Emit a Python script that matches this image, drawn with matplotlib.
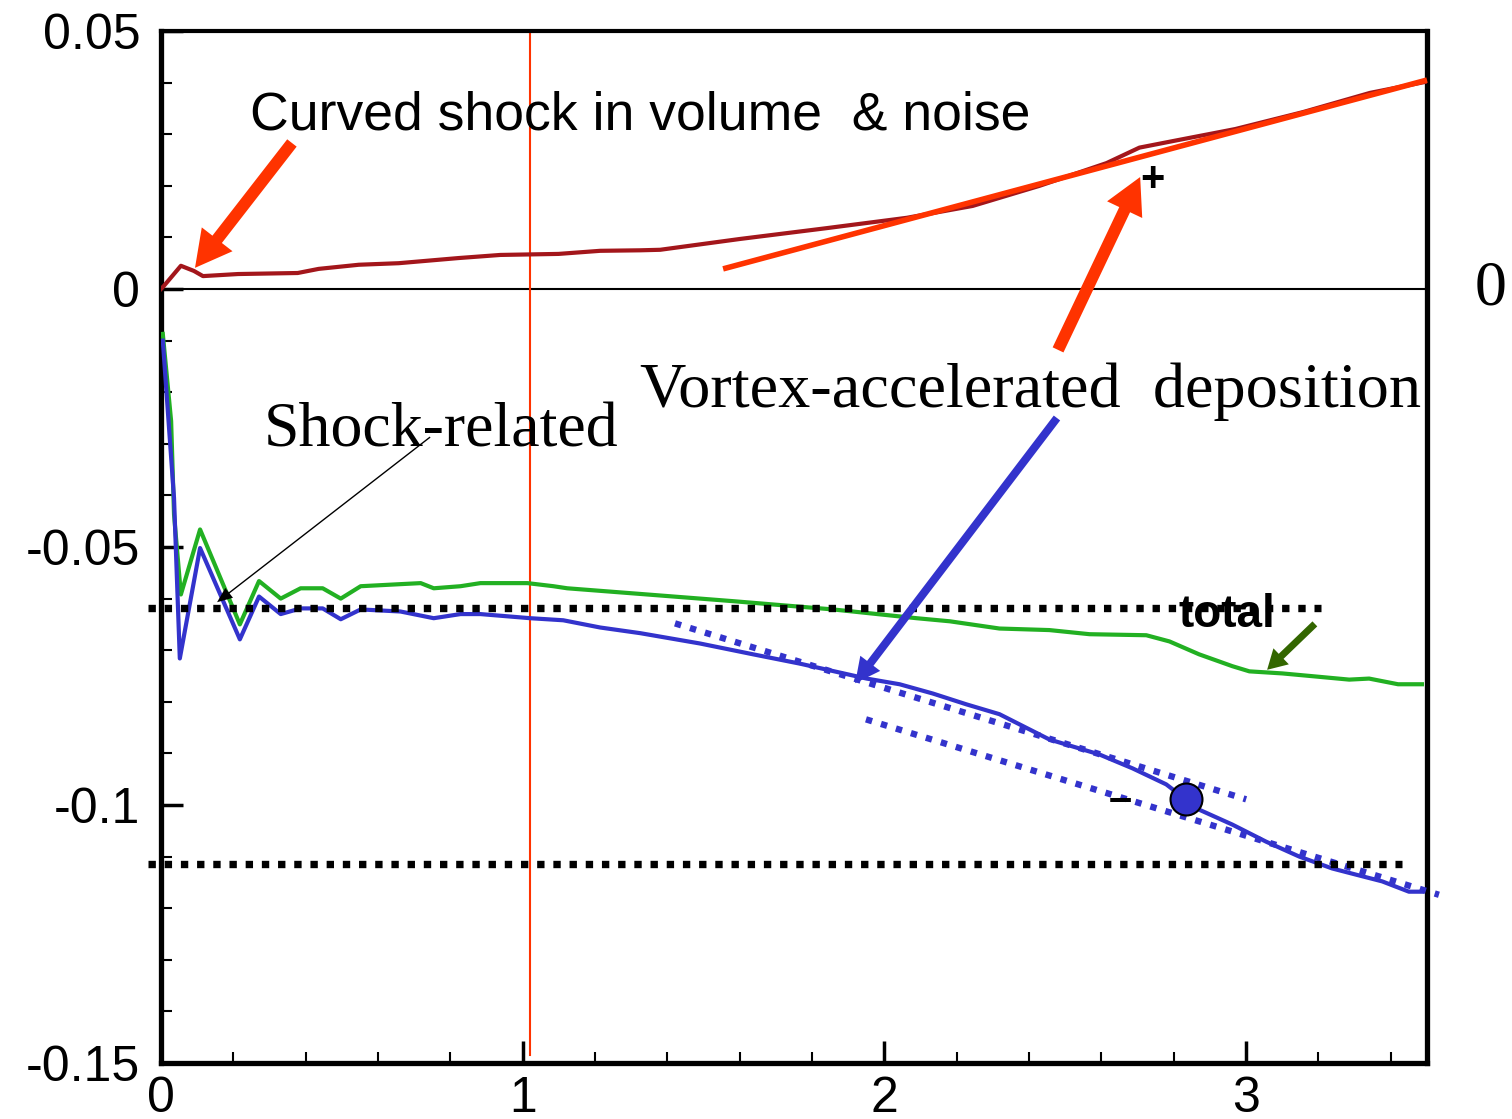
import matplotlib
matplotlib.use("Agg")
import matplotlib.pyplot as plt
from matplotlib.ticker import MultipleLocator, FixedLocator

# ---- data -------------------------------------------------------------
# positive (vortex-accelerated) contribution
pos_x = [0.0, 0.008, 0.055, 0.091, 0.116, 0.213, 0.378, 0.436, 0.547, 0.657,
         0.823, 0.938, 1.099, 1.214, 1.325, 1.38, 1.601, 1.841, 2.062, 2.244,
         2.429, 2.614, 2.705, 2.80, 2.97, 3.158, 3.342, 3.5]
pos_y = [0.0, 0.0006, 0.0045, 0.0035, 0.0025, 0.0029, 0.0031, 0.0039, 0.0047, 0.0050,
         0.0060, 0.0066, 0.0068, 0.0074, 0.0075, 0.0076, 0.0097, 0.0118, 0.0138, 0.0161,
         0.0200, 0.0244, 0.0274, 0.0287, 0.0310, 0.0343, 0.0380, 0.0402]

# total
tot_x = [0.005, 0.028, 0.036, 0.055, 0.108, 0.218, 0.271, 0.331, 0.386, 0.447,
         0.497, 0.552, 0.662, 0.718, 0.754, 0.828, 0.883, 1.013, 1.085, 1.123,
         1.344, 1.582, 1.858, 2.089, 2.181, 2.318, 2.456, 2.567, 2.724, 2.788,
         2.870, 2.962, 3.009, 3.10, 3.193, 3.285, 3.34, 3.42, 3.486]
tot_y = [-0.0087, -0.0256, -0.0437, -0.0592, -0.0466, -0.0650, -0.0566, -0.0600, -0.0580, -0.0580,
         -0.0600, -0.0576, -0.0572, -0.0570, -0.0580, -0.0576, -0.0570, -0.0570, -0.0576, -0.0580,
         -0.0592, -0.0605, -0.0621, -0.0638, -0.0644, -0.0658, -0.0661, -0.0669, -0.0671, -0.0683,
         -0.0708, -0.0731, -0.0741, -0.0745, -0.0751, -0.0757, -0.0755, -0.0766, -0.0766]

# negative (deposition) contribution
neg_x = [0.005, 0.036, 0.052, 0.108, 0.218, 0.271, 0.331, 0.386, 0.447, 0.497,
         0.552, 0.662, 0.754, 0.828, 0.883, 1.021, 1.112, 1.214, 1.325, 1.490,
         1.637, 1.766, 1.951, 2.042, 2.134, 2.227, 2.318, 2.456, 2.594, 2.686,
         2.779, 2.870, 2.962, 3.055, 3.147, 3.238, 3.304, 3.376, 3.450, 3.486]
neg_y = [-0.0100, -0.0405, -0.0716, -0.0502, -0.0679, -0.0596, -0.0630, -0.0619, -0.0619, -0.0640,
         -0.0621, -0.0625, -0.0638, -0.0630, -0.0630, -0.0638, -0.0642, -0.0656, -0.0667, -0.0687,
         -0.0708, -0.0726, -0.0755, -0.0766, -0.0784, -0.0805, -0.0824, -0.0873, -0.0902, -0.0929,
         -0.0960, -0.1009, -0.1038, -0.1071, -0.1100, -0.1123, -0.1135, -0.1148, -0.1168, -0.1168]

# linear trend of the positive part
pos_fit_x = [1.554, 3.5]
pos_fit_y = [0.0039, 0.0405]

# linear trends of the negative part
neg_fit1_x = [1.421, 3.0]
neg_fit1_y = [-0.0648, -0.0989]
neg_fit2_x = [1.949, 3.533]
neg_fit2_y = [-0.0834, -0.1174]

# reference levels
level_hi_x = [-0.036, 3.207]
level_hi_y = [-0.0619, -0.0619]
level_lo_x = [-0.036, 3.43]
level_lo_y = [-0.1115, -0.1115]

marker_x = [2.834]
marker_y = [-0.0989]

vline_x = 1.021

x_major = [0, 1, 2, 3]
x_labels = ["0", "1", "2", "3"]
y_major = [-0.15, -0.1, -0.05, 0, 0.05]
y_labels = ["-0.15", "-0.1", "-0.05", "0", "0.05"]

# ---- colours ----------------------------------------------------------
DARKRED = "#a3161b"
ORANGE = "#ff3300"
GREEN = "#22b022"
BLUE = "#3333cc"
DKGREEN = "#336600"

SANS = "Liberation Sans"
SERIF = "Liberation Serif"

fig = plt.figure(figsize=(15.12, 11.19), dpi=100)
ax = fig.add_axes([161 / 1512, 56 / 1119, 1266 / 1512, 1032 / 1119])
ax.set_xlim(0, 3.5)
ax.set_ylim(-0.15, 0.05)

for side in ["left", "bottom", "right"]:
    ax.spines[side].set_linewidth(3.8)
ax.spines["top"].set_linewidth(3.0)

ax.xaxis.set_major_locator(FixedLocator(x_major))
ax.set_xticklabels(x_labels)
ax.xaxis.set_minor_locator(MultipleLocator(0.2))
ax.yaxis.set_major_locator(FixedLocator(y_major))
ax.set_yticklabels(y_labels)
ax.yaxis.set_minor_locator(MultipleLocator(0.01))
ax.tick_params(which="major", direction="in", length=16, width=2.5,
               top=False, right=False)
ax.tick_params(which="minor", direction="in", length=8, width=1.5,
               top=False, right=False)
ax.tick_params(axis="y", which="major", pad=15)
ax.tick_params(axis="x", which="major", pad=9)
for lab in ax.get_xticklabels() + ax.get_yticklabels():
    lab.set_fontfamily(SANS)
    lab.set_fontsize(36)

# zero line and reference marker line
ax.plot([0, 3.5], [0, 0], color="black", lw=1.5, zorder=2)
ax.plot([vline_x, vline_x], [-0.1485, 0.05], color=ORANGE, lw=1.5, zorder=2)

# curves
ax.plot(pos_x, pos_y, color=DARKRED, lw=3.0, zorder=4)
ax.plot(tot_x, tot_y, color=GREEN, lw=3.0, zorder=4)
ax.plot(neg_x, neg_y, color=BLUE, lw=3.0, zorder=4)

# trend lines
ax.plot(pos_fit_x, pos_fit_y, color=ORANGE, lw=4.0, zorder=5,
        solid_capstyle="butt", clip_on=False)
for fx, fy in [(neg_fit1_x, neg_fit1_y), (neg_fit2_x, neg_fit2_y)]:
    ax.plot(fx, fy, color=BLUE, lw=4.6, ls=(0, (1, 1.45)),
            dash_capstyle="butt", zorder=5, clip_on=False)

# dotted levels
for lx, ly in [(level_hi_x, level_hi_y), (level_lo_x, level_lo_y)]:
    ax.plot(lx, ly, color="black", lw=5.3, ls=(0, (1, 1.2)),
            dash_capstyle="butt", zorder=5, clip_on=False)

ax.plot(marker_x, marker_y, "o", ms=23, mfc=BLUE, mec="black", mew=1.5, zorder=6)

# annotations
ax.text(0.246, 0.0310, "Curved shock in volume  & noise", family=SANS,
        fontsize=38.5, va="baseline", ha="left", zorder=7)
ax.text(1.324, -0.0229, "Vortex-accelerated  deposition", family=SERIF,
        fontsize=46.3, va="baseline", ha="left", zorder=7)
ax.text(0.285, -0.0306, "Shock-related", family=SERIF,
        fontsize=46, va="baseline", ha="left", zorder=7)
ax.text(2.812, -0.0655, "total", family=SANS, fontweight="bold",
        fontsize=33, va="baseline", ha="left", zorder=7)
ax.text(3.633, -0.0031, "0", family=SERIF, fontsize=46,
        va="baseline", ha="left", clip_on=False)
ax.text(2.740, 0.0211, "+", family=SANS, fontweight="bold", fontsize=30,
        va="center", ha="center", zorder=7)
ax.text(2.651, -0.0990, "\u2013", family=SANS, fontweight="bold", fontsize=30,
        va="center", ha="center", zorder=7)

arrows = [
    ((0.094, 0.0041), (0.362, 0.0283), ORANGE, 8.6, 28, 26),
    ((2.707, 0.0217), (2.480, -0.0118), ORANGE, 8.6, 28, 26),
    ((1.919, -0.0764), (2.477, -0.0250), BLUE, 5.8, 18, 18),
    ((3.058, -0.0738), (3.190, -0.0649), DKGREEN, 5.0, 16, 14),
    ((0.155, -0.0607), (0.744, -0.0287), "black", 1.0, 9, 11),
]
for tip, tail, col, w, hw, hl in arrows:
    ax.annotate("", xy=tip, xytext=tail, xycoords="data", textcoords="data",
                arrowprops=dict(facecolor=col, edgecolor=col, width=w,
                                headwidth=hw, headlength=hl, shrink=0, lw=0),
                zorder=8)

fig.savefig("out.png", dpi=100)
